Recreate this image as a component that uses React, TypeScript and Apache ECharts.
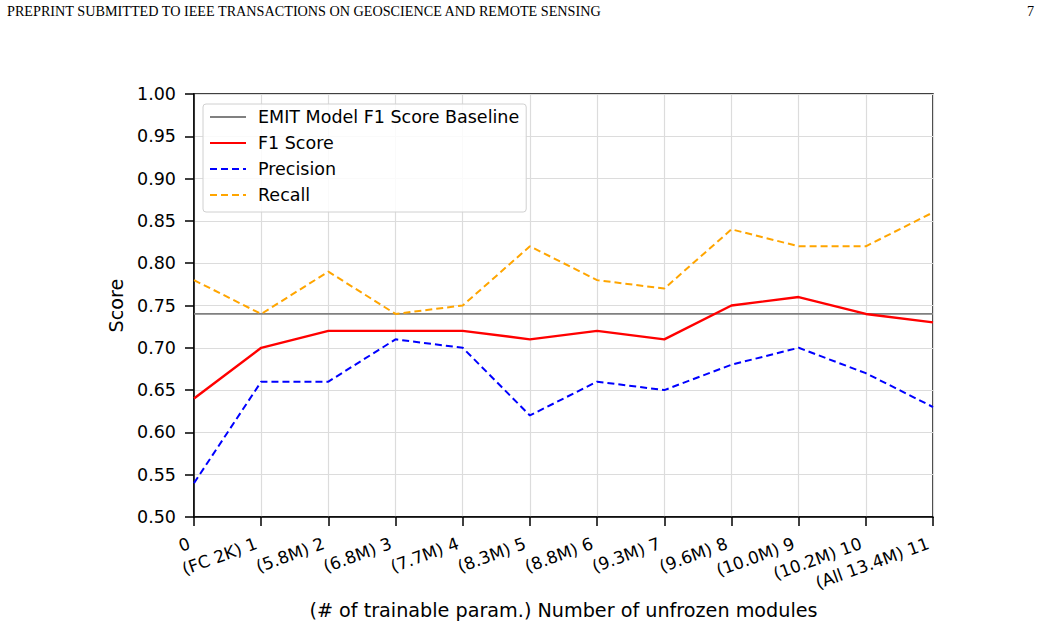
import React, { useEffect, useRef } from "react";
import * as echarts from "echarts";

const categories = [
  "0",
  "(FC 2K) 1",
  "(5.8M) 2",
  "(6.8M) 3",
  "(7.7M) 4",
  "(8.3M) 5",
  "(8.8M) 6",
  "(9.3M) 7",
  "(9.6M) 8",
  "(10.0M) 9",
  "(10.2M) 10",
  "(All 13.4M) 11",
];
const baselineValue = 0.74;
const f1Score = [0.64, 0.7, 0.72, 0.72, 0.72, 0.71, 0.72, 0.71, 0.75, 0.76, 0.74, 0.73];
const precision = [0.54, 0.66, 0.66, 0.71, 0.7, 0.62, 0.66, 0.65, 0.68, 0.7, 0.67, 0.63];
const recall = [0.78, 0.74, 0.79, 0.74, 0.75, 0.82, 0.78, 0.77, 0.84, 0.82, 0.82, 0.86];

const FONT = "DejaVu Sans";

export default function App() {
  const ref = useRef<HTMLDivElement>(null);
  useEffect(() => {
    if (!ref.current) return;
    const chart = echarts.init(ref.current, undefined, { renderer: "svg" });
    const baseline = categories.map(() => baselineValue);
    chart.setOption({
      animation: false,
      backgroundColor: "#ffffff",
      textStyle: { fontFamily: FONT },
      graphic: [
        {
          type: "text",
          left: 7,
          top: 4,
          style: {
            text: "PREPRINT SUBMITTED TO IEEE TRANSACTIONS ON GEOSCIENCE AND REMOTE SENSING",
            font: "14.2px 'Liberation Serif'",
            fill: "#000",
          },
        },
        {
          type: "text",
          right: 7,
          top: 4,
          style: { text: "7", font: "14.2px 'Liberation Serif'", fill: "#000" },
        },
      ],
      grid: {
        left: 194,
        right: 108,
        top: 94,
        bottom: 109,
        show: true,
        borderColor: "#000",
        borderWidth: 1.5,
        backgroundColor: "transparent",
      },
      legend: {
        orient: "vertical",
        left: 203,
        top: 104,
        padding: [4, 7, 8, 6],
        itemGap: 8,
        itemWidth: 36,
        itemHeight: 14,
        itemStyle: { opacity: 0 },
        backgroundColor: "rgba(255,255,255,0.85)",
        borderColor: "#d0d0d0",
        borderWidth: 1,
        borderRadius: 3,
        textStyle: {
          fontFamily: FONT,
          fontSize: 17.5,
          lineHeight: 18,
          color: "#000",
          padding: [0, 0, 0, 7],
        },
        data: ["EMIT Model F1 Score Baseline", "F1 Score", "Precision", "Recall"],
      },
      xAxis: {
        type: "category",
        data: categories,
        boundaryGap: false,
        name: "(# of trainable param.) Number of unfrozen modules",
        nameLocation: "middle",
        nameGap: 84,
        nameTextStyle: { fontFamily: FONT, fontSize: 19.2, color: "#000" },
        axisLine: { lineStyle: { color: "#000", width: 1.5 } },
        axisTick: {
          show: true,
          inside: false,
          length: 9,
          alignWithLabel: true,
          lineStyle: { color: "#000", width: 1.5 },
        },
        axisLabel: {
          rotate: 20,
          interval: 0,
          margin: 24,
          padding: [0, 5, 0, 0],
          fontFamily: FONT,
          fontSize: 17,
          color: "#000",
        },
        splitLine: { show: true, lineStyle: { color: "#dcdcdc", width: 1.2 } },
      },
      yAxis: {
        type: "value",
        min: 0.5,
        max: 1.0,
        interval: 0.05,
        name: "Score",
        nameLocation: "middle",
        nameGap: 65,
        nameTextStyle: { fontFamily: FONT, fontSize: 19.2, color: "#000" },
        axisLine: { show: true, lineStyle: { color: "#000", width: 1.5 } },
        axisTick: { show: true, inside: false, length: 9, lineStyle: { color: "#000", width: 1.5 } },
        axisLabel: {
          margin: 18,
          fontFamily: FONT,
          fontSize: 17.5,
          color: "#000",
          formatter: (v: number) => v.toFixed(2),
        },
        splitLine: { show: true, lineStyle: { color: "#dcdcdc", width: 1.2 } },
      },
      series: [
        {
          name: "EMIT Model F1 Score Baseline",
          type: "line",
          data: baseline,
          symbol: "none",
          lineStyle: { color: "#808080", width: 1.8 },
          itemStyle: { color: "#808080" },
        },
        {
          name: "F1 Score",
          type: "line",
          data: f1Score,
          symbol: "none",
          lineStyle: { color: "#ff0000", width: 2.4 },
          itemStyle: { color: "#ff0000" },
        },
        {
          name: "Precision",
          type: "line",
          data: precision,
          symbol: "none",
          lineStyle: { color: "#0000ff", width: 2, type: [7, 4] },
          itemStyle: { color: "#0000ff" },
        },
        {
          name: "Recall",
          type: "line",
          data: recall,
          symbol: "none",
          lineStyle: { color: "#ffa500", width: 2, type: [7, 4] },
          itemStyle: { color: "#ffa500" },
        },
      ],
    });
    return () => chart.dispose();
  }, []);
  return (
    <div
      ref={ref}
      style={{ position: "fixed", left: 0, top: 0, width: 1041, height: 626, background: "#fff" }}
    />
  );
}
